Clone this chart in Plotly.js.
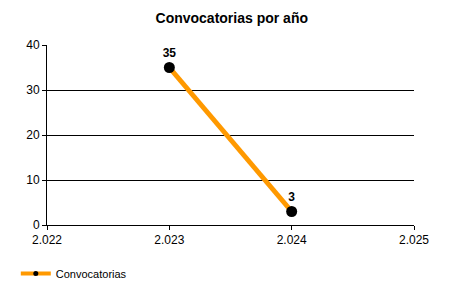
<!DOCTYPE html>
<html><head><meta charset="utf-8">
<script src="https://cdn.plot.ly/plotly-3.0.1.min.js"></script>
<style>body{margin:0}#c{width:450px;height:300px}</style>
</head><body><div id="c"></div>
<script>
const years = [2023, 2024];
const counts = [35, 3];
const xTicks = [2022, 2023, 2024, 2025];
const xTickLabels = ['2.022', '2.023', '2.024', '2.025'];
const seriesName = 'Convocatorias';

Plotly.newPlot('c', [{
  x: years, y: counts, name: seriesName, showlegend: false,
  type: 'scatter', mode: 'lines+markers+text',
  text: counts.map(String), textposition: 'top center',
  textfont: {family: 'Liberation Sans, Arial', size: 12, color: '#000', weight: 'bold'},
  line: {color: '#FF9900', width: 5},
  marker: {color: '#000', size: 11},
  cliponaxis: false
}, {
  x: [null], y: [null], name: seriesName, showlegend: true,
  type: 'scatter', mode: 'lines+markers',
  line: {color: '#FF9900', width: 4},
  marker: {color: '#000', size: 5}
}], {
  width: 450, height: 300,
  margin: {l: 47, r: 36, t: 45, b: 72},
  paper_bgcolor: '#fff', plot_bgcolor: '#fff',
  font: {family: 'Liberation Sans, Arial', size: 12, color: '#000'},
  title: {text: '<b>Convocatorias por año</b>', font: {size: 14, color: '#000'}, x: 0.515, xanchor: 'center', y: 0.94, yanchor: 'middle'},
  xaxis: {range: [2022, 2025], tickvals: xTicks, ticktext: xTickLabels, showgrid: false, zeroline: false, automargin: false,
    showline: true, linecolor: '#000', linewidth: 1, ticks: 'outside', ticklen: 4, tickcolor: '#000', fixedrange: true},
  yaxis: {range: [0, 40], dtick: 10, showgrid: true, gridcolor: '#000', gridwidth: 1, zeroline: false, automargin: false,
    showline: true, linecolor: '#000', linewidth: 1, ticks: 'outside', ticklen: 4, tickcolor: '#000', fixedrange: true},
  showlegend: true,
  legend: {orientation: 'h', x: -0.085, xanchor: 'left', y: -0.27, yanchor: 'middle', font: {size: 11}, itemwidth: 30}
}, {displayModeBar: false, staticPlot: true});
</script></body></html>
